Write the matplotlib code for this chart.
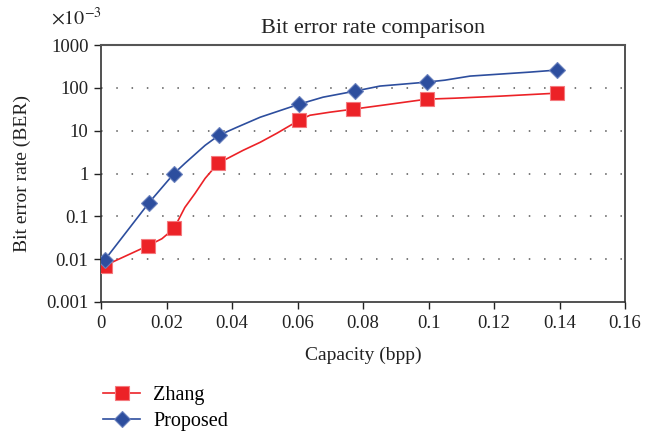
import matplotlib
matplotlib.use("Agg")
import matplotlib.pyplot as plt

# Zhang line vertices (capacity in bpp, BER x 1e-3)
zhang_x = [0.0012, 0.0144, 0.0186, 0.0223, 0.0256, 0.0287, 0.0318, 0.0357, 0.0434, 0.0486,
           0.0537, 0.0605, 0.0638, 0.0699, 0.0769, 0.0861, 0.0995, 0.108, 0.1218, 0.1392]
zhang_y = [0.0071, 0.0207, 0.030, 0.052, 0.161, 0.342, 0.77, 1.72, 3.48, 5.35,
           8.7, 17.5, 22.9, 27.0, 31.7, 39.4, 54.4, 57.3, 63.9, 75.1]
zhang_marks = [0, 1, 3, 7, 11, 14, 16, 19]

# Proposed line vertices
prop_x = [0.0012, 0.0147, 0.0223, 0.0256, 0.0318, 0.036, 0.0415, 0.0486, 0.0605, 0.0678,
          0.0776, 0.0852, 0.0922, 0.0995, 0.105, 0.1127, 0.131, 0.1392]
prop_y = [0.0097, 0.21, 1.0, 1.72, 4.55, 7.8, 12.0, 20.6, 41.5, 60.5,
          84.0, 110, 122, 136, 151, 188, 233, 260]
prop_marks = [0, 1, 2, 5, 8, 10, 13, 17]

x_ticks = [0, 0.02, 0.04, 0.06, 0.08, 0.1, 0.12, 0.14, 0.16]
x_labels = ["0", "0.02", "0.04", "0.06", "0.08", "0.1", "0.12", "0.14", "0.16"]
y_ticks = [0.001, 0.01, 0.1, 1, 10, 100, 1000]
y_labels = ["0.001", "0.01", "0.1", "1", "10", "100", "1000"]

plt.rcParams['font.family'] = ['Liberation Serif', 'DejaVu Serif']
plt.rcParams['mathtext.fontset'] = 'stix'

red = '#ec2227'
blue = '#2d4e9e'
txt = '#222222'

fig = plt.figure(figsize=(6.46, 4.33), dpi=100)
ax = fig.add_axes([101 / 646, 1 - 302 / 433, 524 / 646, 257 / 433])

ax.plot(zhang_x, zhang_y, color=red, lw=1.2, marker='s', markersize=10,
        markevery=zhang_marks, markerfacecolor=red, markeredgecolor='#f47a7e',
        markeredgewidth=0.8, label='Zhang', zorder=3)
ax.plot(prop_x, prop_y, color=blue, lw=1.2, marker='D', markersize=8.5,
        markevery=prop_marks, markerfacecolor=blue, markeredgecolor='#6b82be',
        markeredgewidth=0.8, label='Proposed', zorder=4)

ax.set_yscale('log')
ax.set_xlim(0, 0.16)
ax.set_ylim(0.001, 1000)
ax.set_xticks(x_ticks)
ax.set_xticklabels(x_labels)
ax.set_yticks(y_ticks)
ax.set_yticklabels(y_labels)
ax.minorticks_off()
ax.tick_params(labelsize=13.5, direction='out', length=5, width=1, colors=txt, pad=4)

# dotted horizontal grid at inner decades
for gy in y_ticks[1:-1]:
    ax.axhline(gy, color='#555555', lw=1.1, linestyle=(0, (1, 9)), zorder=1)

for s in ax.spines.values():
    s.set_color('#333333')
    s.set_linewidth(1.2)
ax.spines['top'].set_color('#555555')
ax.spines['top'].set_linewidth(1.5)

ax.set_title('Bit error rate comparison', fontsize=16, pad=9, x=0.519, color=txt)
ax.set_xlabel('Capacity (bpp)', fontsize=14, labelpad=11, color=txt)
ax.set_ylabel('Bit error rate (BER)', fontsize=14, labelpad=11, color=txt)
ax.text(-0.095, 1.06, r'$\times10^{-3}$', transform=ax.transAxes, fontsize=14.5,
        ha='left', va='bottom', color=txt)

fig.legend(loc='upper left', bbox_to_anchor=(87 / 646, 1 - 370 / 433), frameon=False,
           fontsize=14.5, handlelength=1.85, labelspacing=0.35, handletextpad=0.65,
           borderpad=0.3)

fig.savefig('out.png', dpi=100)
